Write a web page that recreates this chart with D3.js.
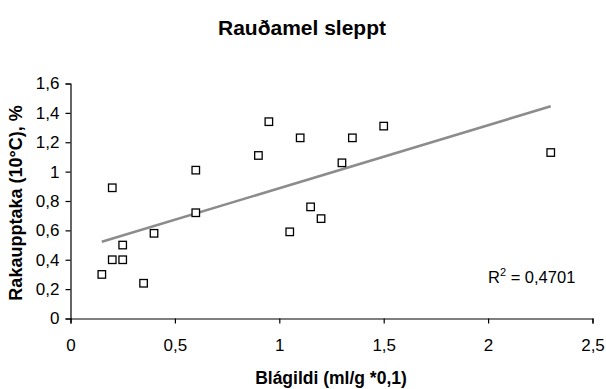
<!DOCTYPE html>
<html>
<head>
<meta charset="utf-8">
<script src="https://cdn.jsdelivr.net/npm/d3@7"></script>
<style>
  html, body { margin: 0; padding: 0; background: #fff; }
  svg { display: block; font-family: "Liberation Sans", Arial, sans-serif; }
</style>
</head>
<body>
<svg id="chart" width="606" height="389"></svg>
<script>
// Blágildi (x) and rakaupptaka (y) for each sample
const blagildi = [0.15, 0.2, 0.25, 0.25, 0.2, 0.35, 0.4, 0.6, 0.6, 0.9, 0.95, 1.1, 1.05, 1.15, 1.2, 1.3, 1.35, 1.5, 2.3];
const rakaupptaka = [0.30, 0.40, 0.40, 0.50, 0.89, 0.24, 0.58, 0.72, 1.01, 1.11, 1.34, 1.23, 0.59, 0.76, 0.68, 1.06, 1.23, 1.31, 1.13];
const xTicks = [0, 0.5, 1, 1.5, 2, 2.5];
const yTicks = [0, 0.2, 0.4, 0.6, 0.8, 1, 1.2, 1.4, 1.6];
const rSquaredText = "0,4701";

const svg = d3.select("#chart");
const margin = { left: 70.5, right: 13.5, top: 83.5, bottom: 70.5 };
const W = 606, H = 389;

const x = d3.scaleLinear().domain([0, 2.5]).range([margin.left, W - margin.right]);
const y = d3.scaleLinear().domain([0, 1.6]).range([H - margin.bottom, margin.top]);

const comma = d => String(d).replace(".", ",");

// Title
svg.append("text")
  .attr("x", 302).attr("y", 35)
  .attr("text-anchor", "middle")
  .attr("font-size", 19.5).attr("font-weight", "bold")
  .attr("textLength", 168).attr("lengthAdjust", "spacingAndGlyphs")
  .text("Rauðamel sleppt");

// Axes
const xAxis = svg.append("g")
  .attr("transform", `translate(0,${y(0)})`)
  .call(d3.axisBottom(x).tickValues(xTicks).tickSize(5).tickPadding(15).tickFormat(comma));
const yAxis = svg.append("g")
  .attr("transform", `translate(${x(0)},0)`)
  .call(d3.axisLeft(y).tickValues(yTicks).tickSize(5).tickPadding(6).tickFormat(comma));

[xAxis, yAxis].forEach(g => {
  g.select(".domain").attr("stroke", "#000").attr("stroke-width", 1.2);
  g.selectAll(".tick line").attr("stroke", "#000").attr("stroke-width", 1.2);
  g.selectAll(".tick text").attr("fill", "#000").attr("font-size", 17)
    .attr("font-family", "Liberation Sans, Arial, sans-serif");
});

// Axis titles
svg.append("text")
  .attr("x", 331).attr("y", 384)
  .attr("text-anchor", "middle")
  .attr("font-size", 17.5).attr("font-weight", "bold")
  .text("Blágildi (ml/g *0,1)");

svg.append("text")
  .attr("transform", `translate(21.5,203) rotate(-90)`)
  .attr("text-anchor", "middle")
  .attr("font-size", 18).attr("font-weight", "bold")
  .text("Rakaupptaka (10°C), %");

// Least-squares trend line over the data range
const pts = blagildi.map((v, i) => [v, rakaupptaka[i]]);
const mx = d3.mean(blagildi), my = d3.mean(rakaupptaka);
const slope = d3.sum(pts, p => (p[0] - mx) * (p[1] - my)) / d3.sum(pts, p => (p[0] - mx) ** 2);
const intercept = my - slope * mx;
const [x0, x1] = d3.extent(blagildi);

svg.append("line")
  .attr("x1", x(x0)).attr("y1", y(intercept + slope * x0))
  .attr("x2", x(x1)).attr("y2", y(intercept + slope * x1))
  .attr("stroke", "#8c8c8c").attr("stroke-width", 2.6);

// Square markers
const s = 7.5;
svg.append("g").selectAll("rect")
  .data(pts)
  .join("rect")
  .attr("x", d => x(d[0]) - s / 2)
  .attr("y", d => y(d[1]) - s / 2)
  .attr("width", s).attr("height", s)
  .attr("fill", "#fff").attr("stroke", "#000").attr("stroke-width", 1.3);

// R² label
const r2 = svg.append("text")
  .attr("x", 488).attr("y", 283)
  .attr("font-size", 16.5);
r2.append("tspan").text("R");
r2.append("tspan").attr("font-size", 11).attr("dy", -7).text("2");
r2.append("tspan").attr("dy", 7).text(" = " + rSquaredText);
</script>
</body>
</html>
